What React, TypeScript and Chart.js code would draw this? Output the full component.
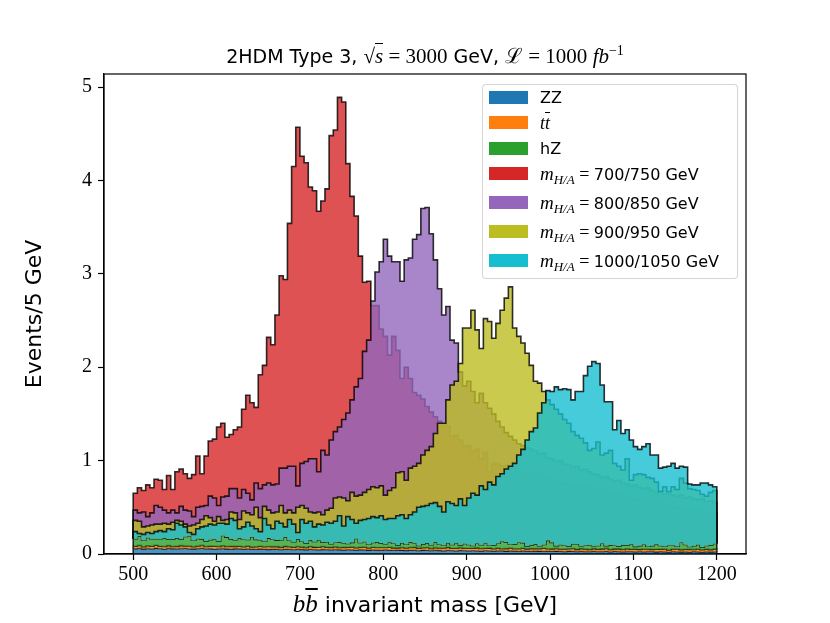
import { useEffect, useRef } from 'react';
import { Chart, registerables } from 'chart.js';

Chart.register(...registerables);

// 5 GeV bins, 500 -> 1200 GeV
const binLow = 500;
const binHigh = 1200;
const binWidth = 5;

const xTicks = [500, 600, 700, 800, 900, 1000, 1100, 1200];
const yTicks = [0, 1, 2, 3, 4, 5];

const labels = ['ZZ', 'tt̄', 'hZ', '700/750 GeV', '800/850 GeV', '900/950 GeV', '1000/1050 GeV'];

// backgrounds (stacked: ZZ, then tt, then hZ)
const zz = [
  0.058, 0.062, 0.055, 0.06, 0.057, 0.063, 0.059, 0.054, 0.061, 0.058,
  0.056, 0.06, 0.062, 0.057, 0.055, 0.059, 0.061, 0.056, 0.058, 0.054,
  0.057, 0.06, 0.055, 0.052, 0.058, 0.056, 0.053, 0.057, 0.054, 0.051,
  0.055, 0.053, 0.05, 0.054, 0.052, 0.049, 0.053, 0.051, 0.048, 0.052,
  0.05, 0.047, 0.051, 0.049, 0.046, 0.05, 0.048, 0.045, 0.049, 0.047,
  0.044, 0.048, 0.046, 0.043, 0.047, 0.045, 0.042, 0.046, 0.044, 0.041,
  0.045, 0.043, 0.04, 0.044, 0.042, 0.039, 0.043, 0.041, 0.038, 0.042,
  0.04, 0.037, 0.041, 0.039, 0.036, 0.04, 0.038, 0.035, 0.039, 0.037,
  0.034, 0.038, 0.036, 0.033, 0.037, 0.035, 0.032, 0.036, 0.034, 0.031,
  0.035, 0.033, 0.03, 0.034, 0.032, 0.029, 0.033, 0.031, 0.03, 0.032,
  0.029, 0.031, 0.03, 0.027, 0.031, 0.029, 0.026, 0.03, 0.028, 0.027,
  0.029, 0.026, 0.028, 0.03, 0.025, 0.029, 0.027, 0.024, 0.028, 0.026,
  0.025, 0.027, 0.024, 0.028, 0.026, 0.023, 0.027, 0.025, 0.022, 0.026,
  0.024, 0.023, 0.025, 0.022, 0.026, 0.024, 0.021, 0.025, 0.023, 0.024,
];
const tt = [
  0.025, 0.03, 0.022, 0.028, 0.026, 0.031, 0.024, 0.027, 0.029, 0.023,
  0.026, 0.03, 0.025, 0.028, 0.022, 0.027, 0.031, 0.024, 0.026, 0.029,
  0.023, 0.028, 0.026, 0.03, 0.024, 0.027, 0.025, 0.029, 0.022, 0.026,
  0.028, 0.024, 0.03, 0.025, 0.027, 0.023, 0.029, 0.026, 0.024, 0.028,
  0.026, 0.022, 0.029, 0.025, 0.027, 0.03, 0.024, 0.026, 0.028, 0.023,
  0.027, 0.025, 0.029, 0.024, 0.026, 0.03, 0.023, 0.027, 0.025, 0.028,
  0.024, 0.029, 0.026, 0.022, 0.028, 0.025, 0.027, 0.03, 0.024, 0.026,
  0.029, 0.023, 0.027, 0.025, 0.028, 0.031, 0.024, 0.026, 0.029, 0.025,
  0.027, 0.023, 0.03, 0.026, 0.024, 0.028, 0.025, 0.029, 0.022, 0.027,
  0.03, 0.024, 0.026, 0.028, 0.023, 0.029, 0.025, 0.027, 0.031, 0.024,
  0.026, 0.029, 0.023, 0.027, 0.025, 0.03, 0.024, 0.028, 0.026, 0.022,
  0.029, 0.025, 0.027, 0.03, 0.023, 0.026, 0.028, 0.024, 0.029, 0.025,
  0.027, 0.023, 0.03, 0.026, 0.024, 0.028, 0.025, 0.029, 0.022, 0.027,
  0.03, 0.024, 0.026, 0.028, 0.023, 0.029, 0.025, 0.027, 0.024, 0.028,
];
const hz = [
  0.08, 0.1, 0.07, 0.09, 0.08, 0.07, 0.08, 0.09, 0.07, 0.08,
  0.09, 0.07, 0.1, 0.11, 0.07, 0.08, 0.07, 0.06, 0.07, 0.08,
  0.06, 0.11, 0.1, 0.08, 0.07, 0.09, 0.08, 0.07, 0.11, 0.08,
  0.07, 0.06, 0.09, 0.08, 0.07, 0.08, 0.1, 0.07, 0.06, 0.08,
  0.06, 0.05, 0.07, 0.06, 0.08, 0.05, 0.06, 0.04, 0.05, 0.06,
  0.05, 0.04, 0.05, 0.1, 0.05, 0.06, 0.04, 0.05, 0.06, 0.05,
  0.04, 0.06, 0.05, 0.03, 0.05, 0.04, 0.06, 0.05, 0.03, 0.04,
  0.05, 0.04, 0.06, 0.04, 0.03, 0.05, 0.04, 0.06, 0.03, 0.05,
  0.04, 0.03, 0.05, 0.04, 0.06, 0.03, 0.04, 0.05, 0.08, 0.07,
  0.04, 0.05, 0.07, 0.06, 0.03, 0.04, 0.05, 0.03, 0.04, 0.09,
  0.07, 0.03, 0.05, 0.04, 0.03, 0.05, 0.06, 0.03, 0.04, 0.05,
  0.03, 0.04, 0.06, 0.03, 0.05, 0.04, 0.03, 0.05, 0.04, 0.06,
  0.03, 0.04, 0.05, 0.03, 0.04, 0.06, 0.04, 0.03, 0.05, 0.04,
  0.03, 0.08, 0.05, 0.03, 0.04, 0.05, 0.03, 0.04, 0.05, 0.06,
];

// signal histograms, bin heights as drawn (on top of the summed backgrounds)
const sig700 = [
  0.65, 0.71, 0.68, 0.74, 0.71, 0.8, 0.79, 0.69, 0.84, 0.69,
  0.88, 0.91, 0.86, 0.81, 0.85, 1.05, 0.86, 1.05, 1.21, 1.23,
  1.36, 1.4, 1.25, 1.28, 1.33, 1.36, 1.55, 1.7, 1.62, 1.57,
  1.92, 2.02, 2.32, 2.24, 2.56, 2.98, 2.94, 3.54, 4.15, 4.57,
  4.26, 4.19, 3.93, 3.89, 3.67, 3.78, 3.91, 4.48, 4.54, 4.89,
  4.84, 4.18, 3.83, 3.62, 3.19, 2.91, 2.92, 2.66, 2.66, 2.41,
  2.33, 2.13, 2.33, 2.18, 1.88, 2.0, 1.88, 1.73, 1.7, 1.66,
  1.58, 1.52, 1.47, 1.42, 1.38, 1.37, 1.26, 1.27, 1.22, 1.15,
  1.16, 1.1, 1.12, 1.02, 1.09, 0.88, 0.97, 0.96, 0.94, 0.95,
  0.91, 0.92, 0.88, 0.86, 0.87, 0.84, 0.83, 0.85, 0.8, 0.81,
  0.78, 0.79, 0.76, 0.77, 0.74, 0.72, 0.74, 0.71, 0.7, 0.72,
  0.68, 0.67, 0.69, 0.66, 0.65, 0.64, 0.62, 0.63, 0.6, 0.58,
  0.59, 0.57, 0.55, 0.56, 0.54, 0.53, 0.54, 0.51, 0.52, 0.5,
  0.5, 0.48, 0.47, 0.49, 0.46, 0.45, 0.47, 0.44, 0.43, 0.44,
];
const sig800 = [
  0.47, 0.44, 0.45, 0.4, 0.44, 0.52, 0.5, 0.47, 0.44, 0.47,
  0.44, 0.51, 0.47, 0.46, 0.4, 0.5, 0.51, 0.52, 0.62, 0.6,
  0.52, 0.61, 0.62, 0.7, 0.7, 0.6, 0.69, 0.65, 0.58, 0.76,
  0.7, 0.74, 0.76, 0.74, 0.75, 0.92, 0.92, 0.94, 0.94, 0.73,
  0.97, 0.99, 1.02, 1.02, 0.88, 1.11, 1.06, 1.22, 1.31, 1.36,
  1.44, 1.51, 1.65, 1.79, 1.88, 2.17, 2.29, 2.71, 3.02, 3.13,
  3.37, 3.19, 3.13, 3.13, 2.92, 3.15, 3.17, 3.37, 3.42, 3.7,
  3.71, 3.43, 3.15, 2.84, 2.56, 2.65, 2.29, 2.26, 1.95, 1.8,
  1.85, 1.74, 1.62, 1.72, 1.62, 1.56, 1.5, 1.42, 1.36, 1.3,
  1.26, 1.22, 1.18, 1.16, 1.14, 1.12, 1.1, 1.07, 1.08, 1.03,
  1.02, 0.99, 1.0, 0.96, 0.95, 0.93, 0.94, 0.9, 0.91, 0.88,
  0.86, 0.85, 0.82, 0.83, 0.8, 0.78, 0.79, 0.76, 0.75, 0.73,
  0.74, 0.71, 0.7, 0.71, 0.68, 0.66, 0.67, 0.64, 0.65, 0.63,
  0.62, 0.63, 0.6, 0.61, 0.59, 0.58, 0.59, 0.56, 0.57, 0.55,
];
const sig900 = [
  0.36, 0.35, 0.29, 0.3, 0.31, 0.32, 0.32, 0.33, 0.32, 0.34,
  0.36, 0.35, 0.32, 0.3, 0.31, 0.33, 0.37, 0.41, 0.39, 0.35,
  0.4, 0.36, 0.37, 0.45, 0.44, 0.37, 0.46, 0.44, 0.42, 0.5,
  0.39, 0.51, 0.47, 0.44, 0.45, 0.52, 0.44, 0.47, 0.44, 0.5,
  0.52, 0.49, 0.45, 0.44, 0.45, 0.42, 0.47, 0.49, 0.6, 0.61,
  0.6, 0.57, 0.66, 0.62, 0.63, 0.66, 0.69, 0.72, 0.71, 0.73,
  0.63, 0.68, 0.71, 0.87, 0.88, 0.79, 0.92, 0.94, 0.97, 1.06,
  1.11, 1.15, 1.29, 1.4, 1.4, 1.65, 1.81, 1.85, 2.04, 2.42,
  2.42, 2.61, 2.4, 2.2, 2.52, 2.49, 2.31, 2.47, 2.61, 2.74,
  2.86, 2.42, 2.33, 2.26, 2.15, 2.02, 1.85, 1.83, 1.74, 1.65,
  1.6, 1.55, 1.5, 1.44, 1.4, 1.31, 1.27, 1.24, 1.19, 1.11,
  1.13, 1.2, 1.06, 1.08, 1.11, 0.97, 0.94, 0.9, 1.02, 0.79,
  0.85, 0.86, 0.85, 0.82, 0.81, 0.77, 0.67, 0.72, 0.67, 0.72,
  0.69, 0.81, 0.76, 0.7, 0.69, 0.68, 0.64, 0.62, 0.66, 0.68,
];
const sig1000 = [
  0.24, 0.22, 0.21, 0.23, 0.22, 0.24, 0.25, 0.24, 0.27, 0.26,
  0.33, 0.31, 0.29, 0.23, 0.21, 0.27, 0.29, 0.3, 0.32, 0.31,
  0.33, 0.33, 0.32, 0.38, 0.36, 0.27, 0.29, 0.34, 0.3, 0.27,
  0.24, 0.38, 0.31, 0.27, 0.35, 0.33, 0.29, 0.37, 0.32, 0.23,
  0.37, 0.33, 0.35, 0.29, 0.32, 0.31, 0.34, 0.33, 0.35, 0.41,
  0.3, 0.4, 0.37, 0.33, 0.36, 0.37, 0.38, 0.4, 0.39, 0.41,
  0.37, 0.38, 0.38, 0.41, 0.42, 0.38, 0.42, 0.45, 0.5, 0.51,
  0.52, 0.54, 0.55, 0.51, 0.45, 0.56, 0.54, 0.52, 0.59, 0.52,
  0.6, 0.65, 0.63, 0.73, 0.69, 0.77, 0.74, 0.83, 0.86, 0.91,
  0.94, 0.97, 1.06, 1.12, 1.22, 1.31, 1.35, 1.51, 1.62, 1.75,
  1.74, 1.79, 1.76, 1.77, 1.76, 1.65, 1.74, 1.74, 1.91, 2.01,
  2.06, 2.04, 1.81, 1.63, 1.63, 1.33, 1.43, 1.29, 1.33, 1.22,
  1.15, 1.12, 1.15, 1.18, 1.06, 1.06, 0.92, 0.93, 0.94, 0.97,
  0.92, 0.94, 0.93, 0.75, 0.74, 0.74, 0.76, 0.76, 0.74, 0.72,
];

const colors = [
  [31, 119, 180],
  [255, 127, 14],
  [44, 160, 44],
  [214, 39, 40],
  [148, 103, 189],
  [188, 189, 34],
  [23, 190, 207],
];

const serif = "'Liberation Serif', 'DejaVu Serif', serif";
const sans = "'DejaVu Sans', sans-serif";

const rgba = (c: number[], a: number) => `rgba(${c[0]},${c[1]},${c[2]},${a})`;

const framePlugin = {
  id: 'frame',
  afterDatasetsDraw(chart: Chart) {
    const { ctx, chartArea: a } = chart;
    ctx.save();
    ctx.strokeStyle = '#000';
    ctx.lineWidth = 1.2;
    ctx.strokeRect(a.left, a.top, a.right - a.left, a.bottom - a.top);
    ctx.restore();
  },
};

function LegendText({ i }: { i: number }) {
  if (i === 1) {
    return (
      <span style={{ fontFamily: serif, fontStyle: 'italic', fontSize: 18 }}>
        t<span style={{ textDecoration: 'overline' }}>t</span>
      </span>
    );
  }
  if (i < 3) return <span style={{ fontFamily: sans, fontSize: 16 }}>{labels[i]}</span>;
  return (
    <span>
      <span style={{ fontFamily: serif, fontStyle: 'italic', fontSize: 19 }}>m</span>
      <span style={{ fontFamily: serif, fontStyle: 'italic', fontSize: 13, verticalAlign: '-4px' }}>H/A</span>
      <span style={{ fontFamily: serif, fontSize: 18 }}> = </span>
      <span style={{ fontFamily: sans, fontSize: 16 }}>{labels[i]}</span>
    </span>
  );
}

export default function App() {
  const canvasRef = useRef<HTMLCanvasElement | null>(null);
  const chartRef = useRef<Chart | null>(null);

  useEffect(() => {
    const ctx = canvasRef.current?.getContext('2d');
    if (!ctx) return;
    if (chartRef.current) chartRef.current.destroy();

    const edges = zz.map((_, i) => binLow + binWidth * i);
    const zero = zz.map(() => 0);
    const sumTT = zz.map((v, i) => v + tt[i]);
    const sumHZ = sumTT.map((v, i) => v + hz[i]);

    // step outline with vertical edges down to the base at both ends
    const steps = (top: number[], base: number[]) => [
      { x: binLow, y: base[0] },
      ...top.map((y, i) => ({ x: edges[i], y })),
      { x: binHigh, y: top[top.length - 1] },
      { x: binHigh, y: base[base.length - 1] },
    ];

    const series = (i: number, top: number[], base: number[], fill: any, order: number) => ({
      label: labels[i],
      data: steps(top, base),
      stepped: true,
      fill,
      order,
      backgroundColor: rgba(colors[i], 0.8),
      borderColor: 'rgba(0,0,0,0.8)',
      borderWidth: 1.6,
      pointRadius: 0,
      pointHoverRadius: 0,
      pointHitRadius: 0,
    });

    chartRef.current = new Chart(ctx, {
      type: 'line',
      data: {
        datasets: [
          series(0, zz, zero, 'origin', 6),
          series(1, sumTT, zz, '-1', 5),
          series(2, sumHZ, sumTT, '-1', 4),
          series(3, sig700, sumHZ, 2, 3),
          series(4, sig800, sumHZ, 2, 2),
          series(5, sig900, sumHZ, 2, 1),
          series(6, sig1000, sumHZ, 2, 0),
        ] as any,
      },
      options: {
        animation: false,
        responsive: false,
        events: [],
        layout: { padding: { left: 0, right: 84, top: 74, bottom: 0 } },
        plugins: {
          legend: { display: false },
          title: { display: false },
          tooltip: { enabled: false },
        },
        scales: {
          x: {
            type: 'linear',
            min: 465,
            max: 1235,
            afterFit: (s: any) => {
              s.height = 69;
            },
            afterBuildTicks: (s: any) => {
              s.ticks = xTicks.map((value) => ({ value }));
            },
            grid: { drawOnChartArea: false, tickLength: 6, color: '#000', tickWidth: 1.2 },
            border: { color: '#000', width: 1.2 },
            ticks: {
              color: '#000',
              padding: 3,
              maxRotation: 0,
              font: { family: serif, size: 20 },
              callback: (v: any) => String(v),
            },
          },
          y: {
            min: 0,
            max: 5.14,
            afterFit: (s: any) => {
              s.width = 104;
            },
            afterBuildTicks: (s: any) => {
              s.ticks = yTicks.map((value) => ({ value }));
            },
            grid: { drawOnChartArea: false, tickLength: 6, color: '#000', tickWidth: 1.2 },
            border: { color: '#000', width: 1.2 },
            ticks: {
              color: '#000',
              padding: 6,
              font: { family: serif, size: 20 },
              callback: (v: any) => String(v),
            },
            title: {
              display: true,
              text: 'Events/5 GeV',
              color: '#000',
              font: { family: sans, size: 22 },
              padding: { top: 22, bottom: 0 },
            },
          },
        },
      },
      plugins: [framePlugin],
    });

    return () => {
      if (chartRef.current) {
        chartRef.current.destroy();
        chartRef.current = null;
      }
    };
  }, []);

  const rowCenters = [97, 122, 148, 173, 202, 231, 260];

  return (
    <div style={{ position: 'absolute', left: 0, top: 0, width: 830, height: 623, background: '#fff' }}>
      <canvas ref={canvasRef} width={830} height={623} style={{ width: 830, height: 623, display: 'block' }} />

      <div
        style={{
          position: 'absolute',
          left: 104,
          width: 642,
          top: 44,
          lineHeight: '24px',
          textAlign: 'center',
          whiteSpace: 'nowrap',
          fontFamily: sans,
          fontSize: 19,
          color: '#000',
        }}
      >
        2HDM Type 3,{' '}
        <span style={{ fontFamily: serif, fontSize: 21 }}>
          √<span style={{ fontStyle: 'italic', borderTop: '1px solid #000' }}>s</span> = 3000
        </span>{' '}
        GeV,{' '}
        <span style={{ fontFamily: serif, fontSize: 21 }}>
          ℒ = 1000 <i>fb</i>
          <sup style={{ fontSize: 14, lineHeight: 0 }}>−1</sup>
        </span>
      </div>

      <div
        style={{
          position: 'absolute',
          left: 104,
          width: 642,
          top: 590,
          lineHeight: '28px',
          textAlign: 'center',
          whiteSpace: 'nowrap',
          fontFamily: sans,
          fontSize: 22,
          color: '#000',
        }}
      >
        <span style={{ fontFamily: serif, fontStyle: 'italic', fontSize: 25 }}>
          b<span style={{ textDecoration: 'overline' }}>b</span>
        </span>{' '}
        invariant mass [GeV]
      </div>

      <div
        style={{
          position: 'absolute',
          left: 482,
          top: 84,
          width: 256,
          height: 195,
          boxSizing: 'border-box',
          background: 'rgba(255,255,255,0.8)',
          border: '1px solid rgba(204,204,204,0.8)',
          borderRadius: 4,
        }}
      >
        {labels.map((_, i) => (
          <div key={i}>
            <div
              style={{
                position: 'absolute',
                left: 6,
                top: rowCenters[i] - 84 - 7,
                width: 39,
                height: 13,
                background: rgba(colors[i], 1),
              }}
            />
            <div
              style={{
                position: 'absolute',
                left: 57,
                top: rowCenters[i] - 84 - 12,
                height: 24,
                lineHeight: '24px',
                whiteSpace: 'nowrap',
                color: '#000',
              }}
            >
              <LegendText i={i} />
            </div>
          </div>
        ))}
      </div>
    </div>
  );
}
